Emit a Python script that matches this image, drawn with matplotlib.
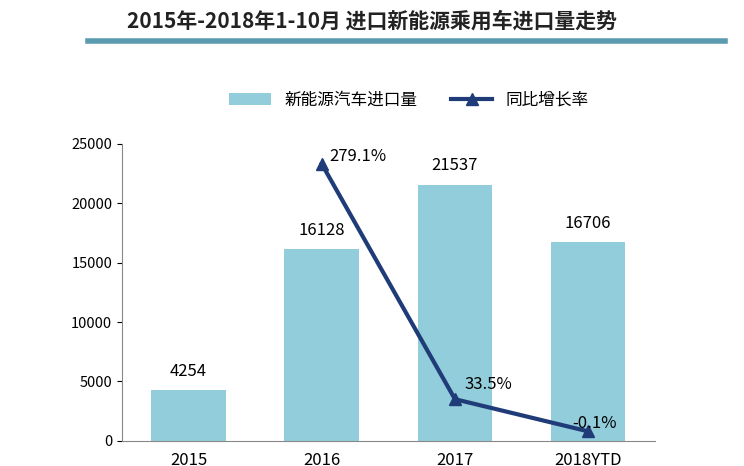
import matplotlib.pyplot as plt
from matplotlib import font_manager as fm
from matplotlib.lines import Line2D

cjk = [f.name for f in fm.fontManager.ttflist if "CJK" in f.name]
plt.rcParams["font.family"] = "sans-serif"
plt.rcParams["font.sans-serif"] = (sorted(set(cjk)) if cjk else []) + ["DejaVu Sans"]

years = ["2015", "2016", "2017", "2018YTD"]
imports = [4254, 16128, 21537, 16706]
growth = [None, 279.1, 33.5, -0.1]
growth_labels = ["", "279.1%", "33.5%", "-0.1%"]

BAR = "#92CDDC"
LINE = "#1F3C78"

fig = plt.figure(figsize=(7.44, 4.66), dpi=100)
fig.text(0.5, 0.955, "2015年-2018年1-10月 进口新能源乘用车进口量走势",
         ha="center", va="center", fontsize=15, weight="bold", color="#222222")
fig.add_artist(Line2D([88 / 744, 725 / 744], [0.913, 0.913], color="#5B9BB0", linewidth=4))

ax = fig.add_axes([0.164, 0.054, 0.716, 0.637])
x = list(range(len(years)))
ax.bar(x, imports, width=0.56, color=BAR, label="新能源汽车进口量")
for xi, v in zip(x, imports):
    ax.text(xi, v + 900, str(v), ha="center", va="bottom", fontsize=12)
ax.set_ylim(0, 25000)
ax.set_xlim(-0.5, 3.5)
ax.set_yticks(range(0, 25001, 5000))
ax.set_xticks(x)
ax.set_xticklabels(years, fontsize=12)
ax.tick_params(axis="y", labelsize=10.5, direction="out")
ax.tick_params(axis="x", length=0, pad=8)
for s in ("top", "right"):
    ax.spines[s].set_visible(False)
ax.spines["left"].set_color("#888888")
ax.spines["bottom"].set_color("#888888")

ax2 = ax.twinx()
gx = [xi for xi, g in zip(x, growth) if g is not None]
gy = [g for g in growth if g is not None]
ax2.plot(gx, gy, color=LINE, linewidth=3, marker="^", markersize=8, label="同比增长率")
ax2.set_ylim(-10, 300)
ax2.axis("off")
offsets = [(0, 0), (0.27, 8), (0.25, 15), (0.05, 8)]
for xi, g, lab in zip(x, growth, growth_labels):
    if g is None:
        continue
    dx, dy = offsets[xi]
    ax2.text(xi + dx, g + dy, lab, ha="center", va="center", fontsize=12)

h1, l1 = ax.get_legend_handles_labels()
h2, l2 = ax2.get_legend_handles_labels()
fig.legend(h1 + h2, l1 + l2, loc="center", bbox_to_anchor=(0.55, 0.785), ncol=2,
           frameon=False, fontsize=12, handlelength=2.5, columnspacing=2)

fig.savefig("out.png", dpi=100)
